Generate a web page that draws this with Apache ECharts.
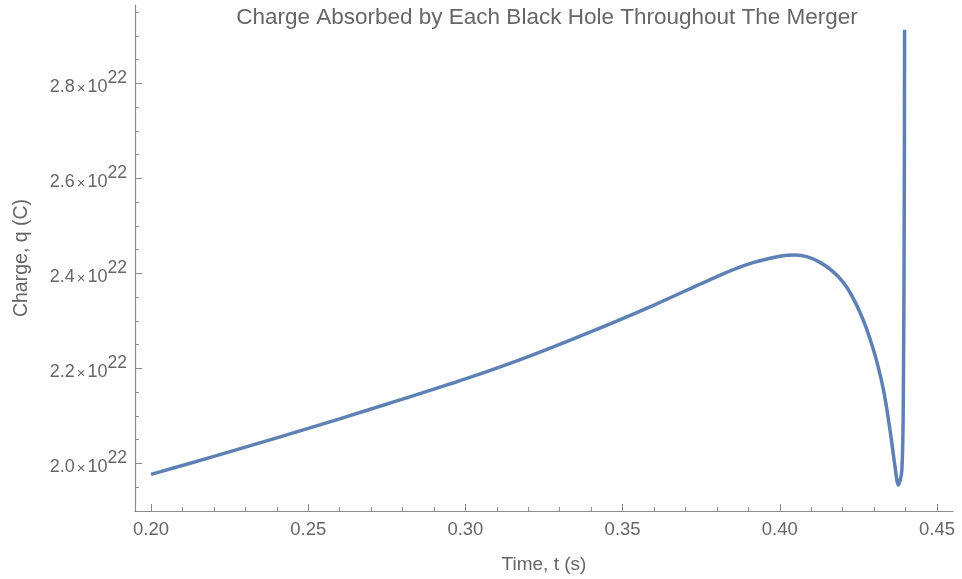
<!DOCTYPE html>
<html>
<head>
<meta charset="utf-8">
<script src="https://cdn.jsdelivr.net/npm/echarts@6/dist/echarts.min.js"></script>
<style>html,body{margin:0;padding:0;background:#fff}#c{width:962px;height:579px}</style>
</head>
<body>
<div id="c"></div>
<script>
// time (s)
const tVals = [0.20, 0.22, 0.24, 0.26, 0.28, 0.30, 0.32, 0.34, 0.36, 0.38, 0.39, 0.40, 0.405, 0.4128, 0.4202, 0.4255, 0.4297, 0.4329, 0.4350, 0.4366, 0.4377, 0.4388, 0.4393, 0.4396, 0.4397];
// charge, in units of 1e22 C
const qVals = [1.977, 2.015, 2.054, 2.094, 2.1355, 2.178, 2.225, 2.2775, 2.3335, 2.3935, 2.4195, 2.436, 2.4387, 2.4233, 2.3813, 2.3184, 2.2413, 2.1574, 2.0735, 1.9964, 1.9545, 1.9832, 2.1364, 2.556, 2.913];
const xMajor = [0.20, 0.25, 0.30, 0.35, 0.40, 0.45];
const xMinor = [0.21,0.22,0.23,0.24,0.26,0.27,0.28,0.29,0.31,0.32,0.33,0.34,0.36,0.37,0.38,0.39,0.41,0.42,0.43,0.44];
const yMajor = [2.0, 2.2, 2.4, 2.6, 2.8];
const yMinor = [1.95,2.05,2.10,2.15,2.25,2.30,2.35,2.45,2.50,2.55,2.65,2.70,2.75,2.85,2.90,2.95];
const exponent = '22';

const data = tVals.map((t, i) => [t, qVals[i]]);
const axisCol = '#8c8c8c';
const textCol = '#666666';
const font = 'Liberation Sans, Arial, sans-serif';
const X_MIN = 0.1949, X_MAX = 0.4551, Y_MIN = 1.9, Y_MAX = 2.965;

const chart = echarts.init(document.getElementById('c'));
chart.setOption({
  animation: false,
  backgroundColor: '#fff',
  title: {
    text: 'Charge Absorbed by Each Black Hole Throughout The Merger',
    left: 542, top: 1, textAlign: 'center',
    textStyle: { color: textCol, fontSize: 22.5, fontWeight: 'normal', fontFamily: font }
  },
  grid: { left: 135, right: 9, top: 5, bottom: 66.5, containLabel: false },
  xAxis: [
    {
      type: 'value', min: X_MIN, max: X_MAX, position: 'bottom',
      axisLine: { show: true, lineStyle: { color: axisCol, width: 1.2 } },
      axisTick: { show: true, inside: true, length: 4, customValues: xMinor, lineStyle: { color: axisCol } },
      axisLabel: { show: false },
      splitLine: { show: false },
      name: 'Time, t (s)', nameLocation: 'middle', nameGap: 44,
      nameTextStyle: { color: textCol, fontSize: 19, fontFamily: font }
    },
    {
      type: 'value', min: X_MIN, max: X_MAX, position: 'bottom',
      axisLine: { show: false },
      axisTick: { show: true, inside: true, length: 7, customValues: xMajor, lineStyle: { color: axisCol } },
      axisLabel: { show: true, customValues: xMajor, margin: 9, color: textCol, fontSize: 18.5, fontFamily: font,
        formatter: v => v.toFixed(2) },
      splitLine: { show: false }
    }
  ],
  yAxis: [
    {
      type: 'value', min: Y_MIN, max: Y_MAX, position: 'left',
      axisLine: { show: true, lineStyle: { color: axisCol, width: 1.2 } },
      axisTick: { show: true, inside: true, length: 4, customValues: yMinor, lineStyle: { color: axisCol } },
      axisLabel: { show: false },
      splitLine: { show: false },
      name: 'Charge, q (C)', nameLocation: 'middle', nameGap: 103, nameRotate: 90,
      nameTextStyle: { color: textCol, fontSize: 19.5, fontFamily: font }
    },
    {
      type: 'value', min: Y_MIN, max: Y_MAX, position: 'left',
      axisLine: { show: false },
      axisTick: { show: true, inside: true, length: 7, customValues: yMajor, lineStyle: { color: axisCol } },
      axisLabel: {
        show: true, customValues: yMajor, margin: 8, color: textCol, fontFamily: font,
        padding: [8, 0, 0, 0],
        formatter: v => '{b|' + v.toFixed(1) + '}{x|×}{b|10}{s|' + exponent + '}',
        rich: {
          b: { fontSize: 18, color: textCol, fontFamily: font, verticalAlign: 'bottom', lineHeight: 18 },
          x: { fontSize: 15, color: textCol, fontFamily: font, verticalAlign: 'bottom', lineHeight: 17, padding: [0, 2, 0, 2] },
          s: { fontSize: 17.5, color: textCol, fontFamily: font, verticalAlign: 'bottom', lineHeight: 18, padding: [0, 0, 9, 0] }
        }
      },
      splitLine: { show: false }
    }
  ],
  series: [{
    type: 'line', xAxisIndex: 0, yAxisIndex: 0,
    data: data, showSymbol: false, smooth: 0.3,
    lineStyle: { color: '#5E81B5', width: 3.5 },
    clip: false
  }]
});
</script>
</body>
</html>
